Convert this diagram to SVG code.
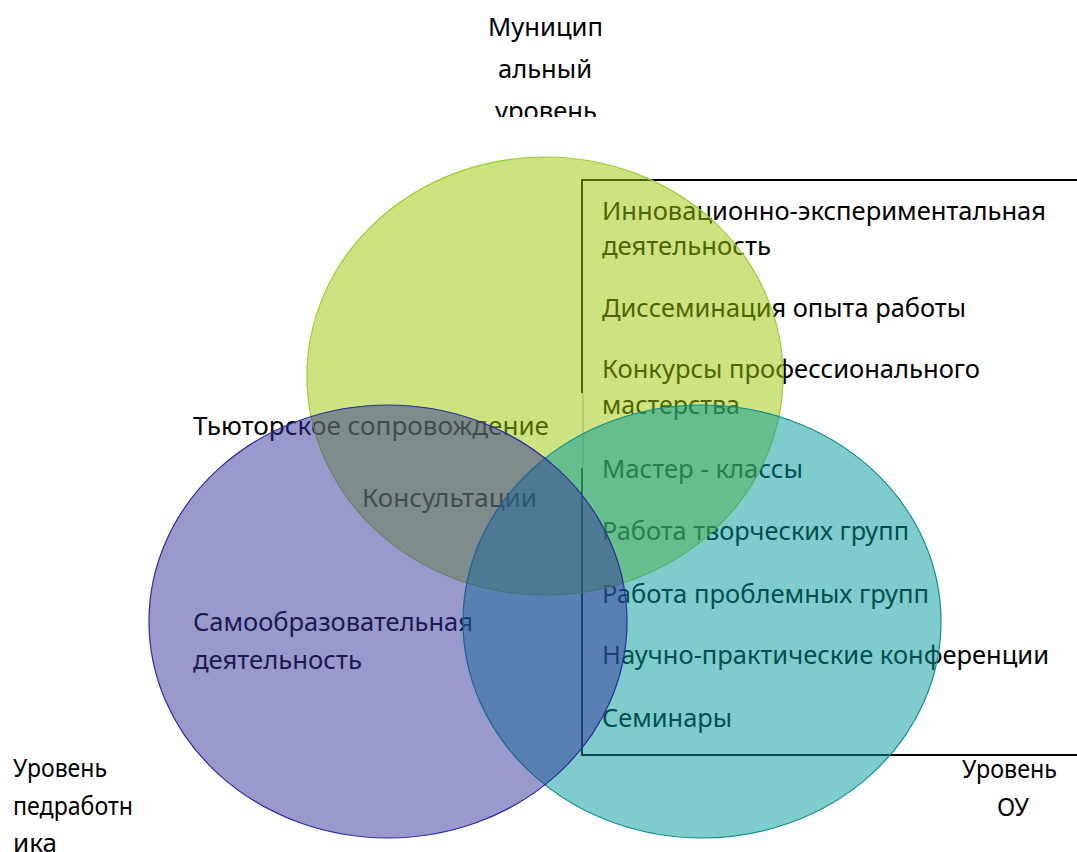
<svg xmlns="http://www.w3.org/2000/svg" width="1077" height="852" viewBox="0 0 1077 852">
<defs>
<style>
text{font-family:"Noto Sans","Open Sans","Liberation Sans",sans-serif;font-size:25px;fill:#000}
.ln{stroke:#000;stroke-width:2;fill:none}
</style>
<clipPath id="topclip"><rect x="400" y="0" width="300" height="117"/></clipPath>
</defs>
<rect width="1077" height="852" fill="#fff"/>
<g id="connectors">
<path class="ln" d="M1077,180 H582 V393"/>
<path class="ln" d="M582,468 V755 H1077"/>
<line x1="583" y1="393" x2="583" y2="468" stroke="#000" stroke-width="1" opacity="0.35"/>
</g>
<g id="list-text">
<text x="602" y="220" textLength="444" lengthAdjust="spacingAndGlyphs">Инновационно-экспериментальная</text>
<text x="602" y="255" textLength="169" lengthAdjust="spacingAndGlyphs">деятельность</text>
<text x="602" y="317" textLength="364" lengthAdjust="spacingAndGlyphs">Диссеминация опыта работы</text>
<text x="602" y="378" textLength="378" lengthAdjust="spacingAndGlyphs">Конкурсы профессионального</text>
<text x="602" y="414" textLength="138" lengthAdjust="spacingAndGlyphs">мастерства</text>
<text x="602" y="478" textLength="201" lengthAdjust="spacingAndGlyphs">Мастер - классы</text>
<text x="602" y="540" textLength="307" lengthAdjust="spacingAndGlyphs">Работа творческих групп</text>
<text x="602" y="603" textLength="327" lengthAdjust="spacingAndGlyphs">Работа проблемных групп</text>
<text x="602" y="664" textLength="447" lengthAdjust="spacingAndGlyphs">Научно-практические конференции</text>
<text x="602" y="727" textLength="130" lengthAdjust="spacingAndGlyphs">Семинары</text>
</g>
<g id="inner-text">
<text x="193" y="435" textLength="356" lengthAdjust="spacingAndGlyphs">Тьюторское сопровождение</text>
<text x="362" y="507" textLength="175" lengthAdjust="spacingAndGlyphs">Консультации</text>
<text x="193" y="631" textLength="280" lengthAdjust="spacingAndGlyphs">Самообразовательная</text>
<text x="193" y="669" textLength="169" lengthAdjust="spacingAndGlyphs">деятельность</text>
</g>
<g id="node-municipal">
<ellipse cx="545" cy="376" rx="238" ry="219" fill="#9bc700" fill-opacity="0.5" stroke="#9acd32" stroke-width="1.2"/>
</g>
<g id="node-ou">
<ellipse cx="702" cy="621.5" rx="239" ry="216.5" fill="#009999" fill-opacity="0.5" stroke="#0f8f8f" stroke-width="1.2"/>
</g>
<g id="node-teacher">
<ellipse cx="388" cy="621.5" rx="239" ry="216.5" fill="#333399" fill-opacity="0.5" stroke="#2b2b9e" stroke-width="1.2"/>
</g>
<g id="label-municipal" clip-path="url(#topclip)">
<text x="488" y="36" textLength="115" lengthAdjust="spacingAndGlyphs">Муницип</text>
<text x="498" y="78" textLength="94" lengthAdjust="spacingAndGlyphs">альный</text>
<text x="495" y="120" textLength="102" lengthAdjust="spacingAndGlyphs">уровень</text>
</g>
<g id="label-teacher">
<text x="13" y="777" textLength="94" lengthAdjust="spacingAndGlyphs">Уровень</text>
<text x="13" y="815" textLength="120" lengthAdjust="spacingAndGlyphs">педработн</text>
<text x="13" y="852" textLength="44" lengthAdjust="spacingAndGlyphs">ика</text>
</g>
<g id="label-ou">
<text x="962" y="778" textLength="95" lengthAdjust="spacingAndGlyphs">Уровень</text>
<text x="997" y="816" textLength="32" lengthAdjust="spacingAndGlyphs">ОУ</text>
</g>
</svg>
